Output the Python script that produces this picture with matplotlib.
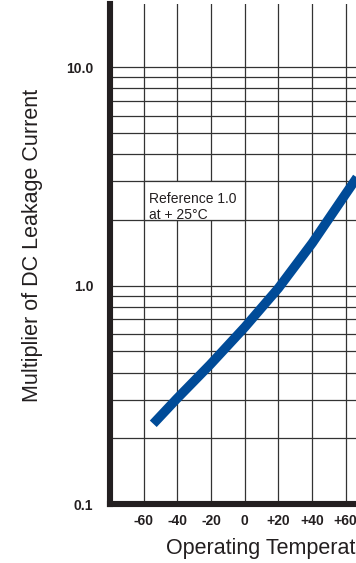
import matplotlib

matplotlib.use("Agg")
import matplotlib.pyplot as plt
from matplotlib.patches import Rectangle

plt.rcParams["font.family"] = ["Liberation Sans", "DejaVu Sans"]

# temperature (deg C) vs multiplier of DC leakage current
temps = [-54.3, -40.4, -20.6, 0.2, 20.0, 40.2, 60.0, 66.1, 70.0]
multiplier = [0.233, 0.303, 0.434, 0.647, 0.973, 1.569, 2.63, 3.08, 3.41]

x_ticks = [-60, -40, -20, 0, 20, 40, 60, 80, 100]
x_labels = ["-60", "-40", "-20", "0", "+20", "+40", "+60", "+80", "+100"]
y_major = [0.1, 1.0, 10.0]
y_labels = ["0.1", "1.0", "10.0"]
y_minor = [0.2, 0.3, 0.4, 0.5, 0.6, 0.7, 0.8, 0.9, 2, 3, 4, 5, 6, 7, 8, 9]

ink = "#231f20"
grid_c = "#333333"
blue = "#004b98"

W, H = 356, 563
fig = plt.figure(figsize=(W / 100, H / 100), dpi=100)
ax = fig.add_axes([110 / W, 1 - 504 / H, 303 / W, 500 / H])

ax.set_yscale("log")
ax.set_xlim(-80, 100)
ax.set_ylim(0.1, 19.5)

ax.set_xticks(x_ticks)
ax.set_xticklabels(x_labels)
ax.set_yticks(y_major)
ax.set_yticklabels(y_labels)
ax.set_yticks(y_minor, minor=True)
ax.yaxis.set_minor_formatter(plt.NullFormatter())
ax.tick_params(axis="both", which="both", length=0, colors=ink)
ax.tick_params(axis="x", pad=7, labelsize=10)
ax.tick_params(axis="y", pad=12, labelsize=10)
for lbl in ax.get_xticklabels() + ax.get_yticklabels():
    lbl.set_fontweight("bold")

ax.grid(True, axis="x", color=grid_c, lw=0.9)
ax.grid(True, axis="y", which="both", color=grid_c, lw=0.9)

for side in ("top", "right"):
    ax.spines[side].set_visible(False)
for side in ("left", "bottom"):
    ax.spines[side].set_linewidth(4.4)
    ax.spines[side].set_color(ink)
    ax.spines[side].set_capstyle("projecting")

# white label cell sitting on the grid
ax.add_patch(Rectangle((-60, 2), 60, 1, facecolor="white", edgecolor=grid_c,
                       lw=0.9, zorder=1.6))
ax.text(-56.7, 2.3, "Reference 1.0\nat + 25\u00b0C", fontsize=10, color=ink,
        va="center", ha="left", linespacing=1.2, zorder=3)

ax.plot(temps, multiplier, color=blue, lw=6.8, solid_capstyle="butt",
        solid_joinstyle="round", zorder=4)

fig.text(33 / W, 1 - 245 / H, "Multiplier of DC Leakage Current", rotation=90,
         fontsize=15.5, color=ink, ha="center", va="center")
fig.text(166 / W, 1 - 548 / H, "Operating Temperature (\u00b0C)", fontsize=15.5,
         color=ink, ha="left", va="center")

fig.savefig("out.png", dpi=100)
plt.close(fig)
